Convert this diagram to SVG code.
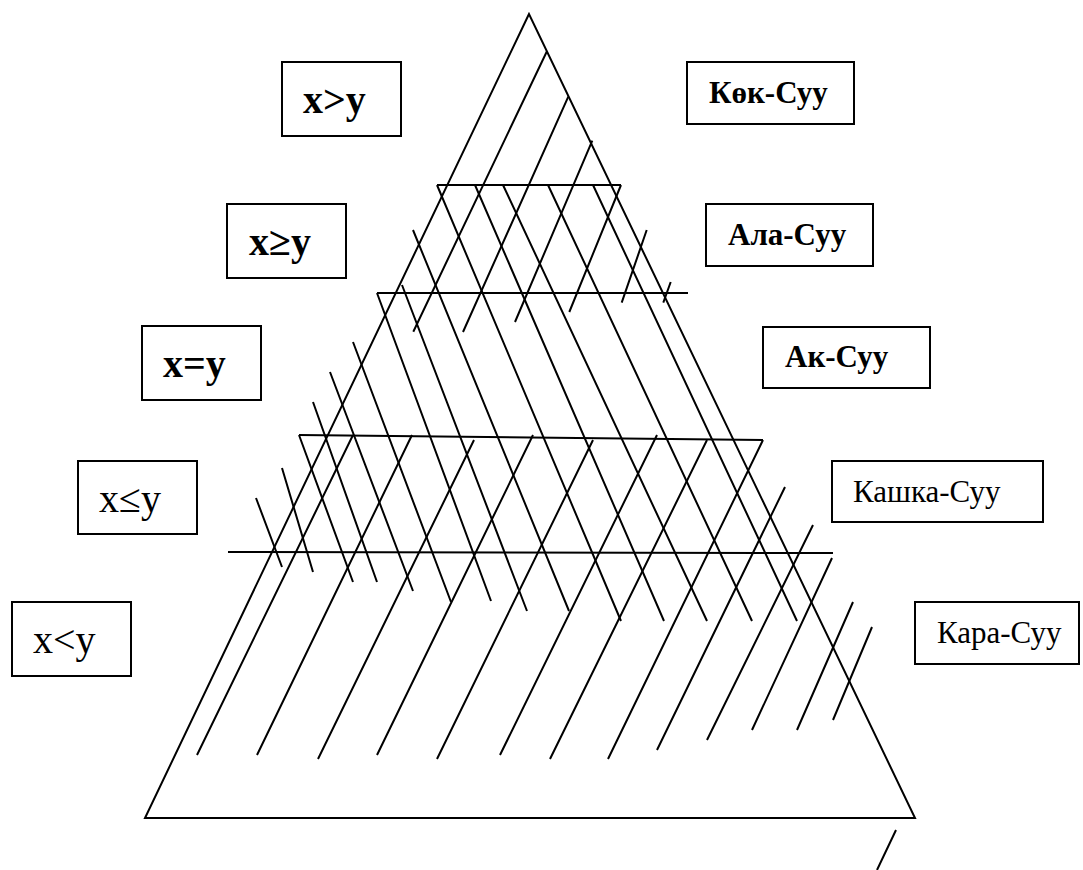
<svg xmlns="http://www.w3.org/2000/svg" width="1083" height="870" viewBox="0 0 1083 870">
<style>
.ln{stroke:#000;stroke-width:2;fill:none;stroke-linecap:butt}
.bx{fill:#fff;stroke:#000;stroke-width:2}
.t{font-family:"Liberation Serif","DejaVu Serif",serif;fill:#000}
.big{font-size:40px}
.mid{font-size:31px}
.b{font-weight:bold}
</style>
<rect width="1083" height="870" fill="#fff"/>
<g id="connectors" class="ln">
  <path d="M529,14 L145,818 L915,818 Z"/>
  <path d="M437,185 H621 M377,293 H688 M299,435 L763,440 M228,552 L833,553"/>
  <path d="M546.7,51.7 L413.3,331.7 M568.3,96.7 L463,332 M592.3,140.7 L515,322 M621,185 L569.3,312 M646.7,230 L621.7,302.7 M670.7,282 L663.3,302.7"/>
  <path d="M353,435 L197,755 M412,435 L257,755 M474,440 L318,759 M533,435 L377,755 M593,440 L437,759 M657,435 L500,755 M707,440 L550,759 M763,440 L608,759 M785,487 L657,750 M813,525 L707,740 M832,558 L752,730 M853,602 L797,730 M872,627 L833,720 M896,830 L877,870"/>
  <path d="M256,498 L282,567 M282,468 L313,572 M299,435 L353,582 M313,402 L377,582 M330,372 L413,591 M353,342 L451,602 M377,293 L491,601 M402,285 L527,611 M413,230 L569,611 M437,185 L621,621 M475,185 L664,621 M503,185 L707,621 M548,185 L752,621 M593,185 L797,621"/>
</g>
<g id="n-xgty"><rect class="bx" x="282" y="62" width="119" height="74"/><text class="t big b" x="303" y="113">x&gt;y</text></g>
<g id="n-xgey"><rect class="bx" x="227" y="204" width="119" height="74"/><text class="t big b" x="249" y="255">x≥y</text></g>
<g id="n-xeqy"><rect class="bx" x="142" y="326" width="119" height="74"/><text class="t big b" x="163" y="377">x=y</text></g>
<g id="n-xley"><rect class="bx" x="78" y="461" width="119" height="73"/><text class="t big" x="99" y="512">x≤y</text></g>
<g id="n-xlty"><rect class="bx" x="12" y="602" width="119" height="74"/><text class="t big" x="33" y="653">x&lt;y</text></g>
<g id="n-kok"><rect class="bx" x="687" y="62" width="167" height="62"/><text class="t mid b" x="709" y="103">Көк-Суу</text></g>
<g id="n-ala"><rect class="bx" x="706" y="204" width="167" height="62"/><text class="t mid b" x="728" y="245">Ала-Суу</text></g>
<g id="n-ak"><rect class="bx" x="763" y="327" width="167" height="61"/><text class="t mid b" x="785" y="367">Ак-Суу</text></g>
<g id="n-kashka"><rect class="bx" x="832" y="461" width="211" height="61"/><text class="t mid" x="853" y="502">Кашка-Суу</text></g>
<g id="n-kara"><rect class="bx" x="915" y="602" width="164" height="62"/><text class="t mid" x="937" y="643">Кара-Суу</text></g>
</svg>
